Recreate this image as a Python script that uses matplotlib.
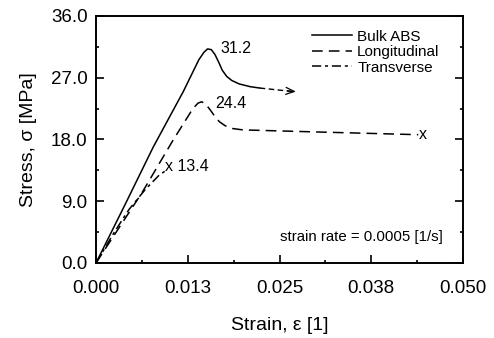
import numpy as np
import matplotlib.pyplot as plt
from matplotlib.ticker import MultipleLocator, FixedLocator

plt.rcParams['font.family'] = ['Liberation Sans', 'DejaVu Sans']

# Curvas (deformação [1], tensão [MPa])
bulk_strain = [0.0, 0.0040, 0.0078, 0.0119, 0.0140, 0.0147, 0.0152, 0.0157, 0.0162, 0.0167,
               0.0172, 0.0178, 0.0185, 0.0195, 0.0210, 0.0223]
bulk_stress = [0.0, 8.6, 16.9, 25.0, 29.6, 30.7, 31.2, 31.1, 30.4, 29.3,
               28.1, 27.2, 26.6, 26.1, 25.7, 25.5]
bulk_ext_strain = [0.0223, 0.0272]
bulk_ext_stress = [25.5, 24.95]

long_strain = [0.0, 0.0063, 0.0105, 0.0132, 0.0139, 0.0144, 0.0149, 0.0155, 0.0161, 0.0168,
               0.0176, 0.0186, 0.0200, 0.0300, 0.0439]
long_stress = [0.0, 10.3, 17.9, 22.5, 23.3, 23.5, 23.2, 22.4, 21.5, 20.6,
               20.0, 19.6, 19.4, 19.1, 18.7]

trans_strain = [0.0, 0.0025, 0.0045, 0.0067, 0.0086, 0.0097]
trans_stress = [0.0, 4.5, 7.8, 10.7, 12.8, 13.6]

xticks = [0.0, 0.0125, 0.025, 0.0375, 0.05]
xlabels = ["0.000", "0.013", "0.025", "0.038", "0.050"]
yticks = [0.0, 9.0, 18.0, 27.0, 36.0]

fig = plt.figure(figsize=(4.94, 3.38), dpi=100)
ax = fig.add_axes([0.1943, 0.2219, 0.743, 0.7308])

ax.plot(bulk_strain, bulk_stress, color='black', lw=1.1, label='Bulk ABS')
ax.plot(bulk_ext_strain, bulk_ext_stress, color='black', lw=1.0, dashes=(4, 2.5))
ax.annotate('', xy=(bulk_ext_strain[-1] + 0.0004, bulk_ext_stress[-1]),
            xytext=(bulk_ext_strain[-1] - 0.0015, bulk_ext_stress[-1] + 0.15),
            arrowprops=dict(arrowstyle='->,head_length=0.6,head_width=0.25', color='black', lw=0.9))
ax.plot(long_strain, long_stress, color='black', lw=1.1, dashes=(7, 4), label='Longitudinal')
ax.plot(trans_strain, trans_stress, color='black', lw=1.1, dashes=(6, 2.5, 2, 2.5), label='Transverse')

# marcas de ruptura e valores de pico
ax.text(long_strain[-1] + 0.0001, long_stress[-1], 'x', fontsize=11.5, va='center', ha='left')
ax.text(0.0094, 14.0, 'x 13.4', fontsize=11.5, va='center', ha='left')
ax.text(0.0170, 31.3, '31.2', fontsize=11.5, va='center', ha='left')
ax.text(0.0162, 23.3, '24.4', fontsize=11.5, va='center', ha='left')
ax.text(0.0473, 3.8, 'strain rate = 0.0005 [1/s]', fontsize=10.8, va='center', ha='right')

ax.set_xlim(0, 0.05)
ax.set_ylim(0, 36)
ax.xaxis.set_major_locator(FixedLocator(xticks))
ax.set_xticklabels(xlabels)
ax.xaxis.set_minor_locator(MultipleLocator(0.00625))
ax.yaxis.set_major_locator(FixedLocator(yticks))
ax.set_yticklabels([f"{v:.1f}" for v in yticks])
ax.yaxis.set_minor_locator(MultipleLocator(4.5))
ax.tick_params(which='both', direction='in', top=False, right=True, labelsize=13.5, width=1.2)
ax.tick_params(which='major', length=5.5)
ax.tick_params(which='minor', length=2.5)
ax.tick_params(axis='x', which='major', pad=12.5)
ax.tick_params(axis='y', which='major', pad=6)
for s in ax.spines.values():
    s.set_linewidth(1.4)

ax.set_xlabel('Strain, ε [1]', fontsize=14, labelpad=14)
ax.set_ylabel('Stress, σ [MPa]', fontsize=14, labelpad=10)

leg = ax.legend(loc='upper left', fontsize=11, frameon=False, handlelength=2.6,
                handletextpad=0.35, labelspacing=0.1, borderpad=0, borderaxespad=0,
                bbox_to_anchor=(0.589, 0.945))

fig.savefig('out.png', dpi=100)
